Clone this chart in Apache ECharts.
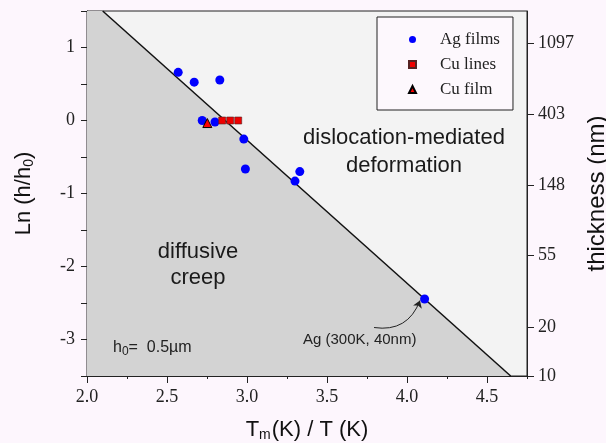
<!DOCTYPE html>
<html>
<head>
<meta charset="utf-8">
<script src="https://cdn.jsdelivr.net/npm/echarts@6/dist/echarts.min.js"></script>
<style>
  html, body { margin: 0; padding: 0; background: #fdf6fd; }
  #chart { width: 606px; height: 443px; }
</style>
</head>
<body>
<div id="chart"></div>
<script>
// Ag films: [Tm/T, ln(h/h0)]
const agFilms = [
  [2.57, 0.66], [2.67, 0.525], [2.83, 0.555], [2.72, 0.0], [2.80, -0.02],
  [2.98, -0.255], [2.99, -0.665], [3.33, -0.70], [3.30, -0.83], [4.11, -2.445]
]
const cuLines = [[2.845, 0.0], [2.895, 0.0], [2.945, 0.0]]
const cuFilm = [[2.752, -0.035]]
// boundary between the two regimes
const boundary = [[2.098, 1.5], [4.648, -3.5]]
const xRange = [2.0, 4.75]
const yRange = [-3.5, 1.5]
const xMajorTicks = [2.0, 2.5, 3.0, 3.5, 4.0, 4.5]
const thickTicks = [10, 20, 55, 148, 403, 1097] // nm
const thickRange = [10, 1742] // nm
const arrowLine = [[3.794, -2.836], [4.081, -2.467]]

const serif = 'Liberation Serif'
const sans = 'Liberation Sans'

const chart = echarts.init(document.getElementById('chart'))
chart.setOption({
  backgroundColor: '#fdf6fd',
  animation: false,
  grid: {
    left: 87,
    right: 79,
    top: 11,
    bottom: 67,
    outerBoundsMode: 'none',
    show: true,
    backgroundColor: '#f3f3f3',
    borderColor: '#222',
    borderWidth: 1
  },
  legend: {
    orient: 'vertical',
    left: 377,
    top: 17,
    padding: [14, 13, 12, 31],
    backgroundColor: '#fdf8fd',
    borderColor: '#222',
    borderWidth: 1,
    itemWidth: 7,
    itemHeight: 7,
    itemGap: 8,
    data: ['Ag films', 'Cu lines', 'Cu film'],
    textStyle: {
      fontFamily: serif,
      fontSize: 17,
      color: '#222',
      lineHeight: 17,
      padding: [0, 0, 0, 19]
    }
  },
  xAxis: [
    {
      type: 'value',
      min: xRange[0],
      max: xRange[1],
      interval: 0.25,
      name: '{t|T}{s|m}{t|(K) / T (K)}',
      nameLocation: 'middle',
      nameGap: 42,
      nameTextStyle: {
        rich: {
          t: { fontFamily: sans, fontSize: 22, color: '#111' },
          s: { fontFamily: sans, fontSize: 14, color: '#111', verticalAlign: 'bottom', padding: [10, 1, 0, 0] }
        }
      },
      axisLine: { onZero: false, lineStyle: { color: '#222' } },
      axisTick: { length: 3, lineStyle: { color: '#222' } },
      axisLabel: {
        fontFamily: serif,
        fontSize: 18,
        color: '#222',
        margin: 12,
        formatter: v => (Math.abs(v * 2 - Math.round(v * 2)) < 1e-6 && v < 4.7 ? v.toFixed(1) : '')
      },
      splitLine: { show: false }
    },
    {
      type: 'value',
      min: xRange[0],
      max: xRange[1],
      position: 'bottom',
      axisLine: { show: false, onZero: false },
      axisTick: { customValues: xMajorTicks, length: 7, lineStyle: { color: '#222' } },
      axisLabel: { show: false },
      splitLine: { show: false }
    }
  ],
  yAxis: [
    {
      type: 'value',
      min: yRange[0],
      max: yRange[1],
      interval: 0.5,
      name: '{t|Ln (h/h}{s|0}{t|)}',
      nameLocation: 'middle',
      nameGap: 51,
      nameRotate: 90,
      nameTextStyle: {
        rich: {
          t: { fontFamily: sans, fontSize: 22, color: '#111' },
          s: { fontFamily: sans, fontSize: 14, color: '#111', verticalAlign: 'bottom', padding: [10, 0, 0, 0] }
        }
      },
      axisLine: { show: true, onZero: false, lineStyle: { color: '#222' } },
      axisTick: { length: 6, lineStyle: { color: '#222' } },
      axisLabel: {
        fontFamily: serif,
        fontSize: 18,
        color: '#222',
        margin: 12,
        formatter: v => (Number.isInteger(v) ? String(v) : '')
      },
      splitLine: { show: false }
    },
    {
      type: 'value',
      position: 'right',
      min: Math.log(thickRange[0]),
      max: Math.log(thickRange[1]),
      name: 'thickness (nm)',
      nameLocation: 'middle',
      nameGap: 56,
      nameRotate: 90,
      nameTextStyle: { fontFamily: sans, fontSize: 24, color: '#111' },
      axisLine: { show: true, onZero: false, lineStyle: { color: '#222' } },
      axisTick: { customValues: thickTicks.map(Math.log), length: 7, lineStyle: { color: '#222' } },
      axisLabel: {
        customValues: thickTicks.map(Math.log),
        fontFamily: serif,
        fontSize: 18,
        color: '#222',
        margin: 11,
        formatter: v => String(Math.round(Math.exp(v)))
      },
      splitLine: { show: false }
    }
  ],
  graphic: [
    {
      type: 'text',
      x: 404,
      y: 124,
      z: 100,
      style: {
        text: 'dislocation-mediated\ndeformation',
        fontFamily: sans,
        fontSize: 22,
        lineHeight: 28,
        fill: '#1a1a1a',
        align: 'center'
      }
    },
    {
      type: 'text',
      x: 198,
      y: 239,
      z: 100,
      style: {
        text: 'diffusive\ncreep',
        fontFamily: sans,
        fontSize: 22,
        lineHeight: 26,
        fill: '#1a1a1a',
        align: 'center'
      }
    },
    {
      type: 'text',
      x: 303,
      y: 332,
      z: 100,
      style: {
        text: 'Ag (300K, 40nm)',
        fontFamily: sans,
        fontSize: 15,
        fill: '#222'
      }
    },
    {
      type: 'text',
      x: 113,
      y: 338,
      z: 100,
      style: {
        text: '{t|h}{s|0}{t|=  0.5\u00b5m}',
        rich: {
          t: { fontFamily: sans, fontSize: 16, fill: '#222' },
          s: { fontFamily: sans, fontSize: 12, fill: '#222', verticalAlign: 'bottom', padding: [8, 0, 0, 0] }
        }
      }
    }
  ],
  series: [
    {
      type: 'line',
      silent: true,
      data: [[xRange[0], yRange[1]], ...boundary],
      showSymbol: false,
      lineStyle: { width: 0 },
      areaStyle: { color: '#d3d3d3', origin: 'start', opacity: 1 },
      z: 1
    },
    {
      type: 'line',
      silent: true,
      data: boundary,
      showSymbol: false,
      lineStyle: { color: '#111', width: 1.5 },
      z: 2
    },
    {
      name: 'Ag films',
      type: 'scatter',
      data: agFilms,
      symbol: 'circle',
      symbolSize: 9,
      itemStyle: { color: '#0000ff', opacity: 1 },
      z: 5
    },
    {
      name: 'Cu lines',
      type: 'scatter',
      data: cuLines,
      symbol: 'rect',
      symbolSize: 7,
      itemStyle: { color: '#ee0000', borderColor: '#552222', borderWidth: 0.6, opacity: 1 },
      z: 6
    },
    {
      name: 'Cu film',
      type: 'scatter',
      data: cuFilm,
      symbol: 'triangle',
      symbolSize: 9,
      itemStyle: { color: '#ff0000', borderColor: '#000', borderWidth: 1, opacity: 1 },
      z: 6
    },
    {
      type: 'lines',
      coordinateSystem: 'cartesian2d',
      silent: true,
      symbol: ['none', 'arrow'],
      symbolSize: 7,
      lineStyle: { color: '#222', width: 1, curveness: -0.4, opacity: 1 },
      data: [{ coords: arrowLine }],
      z: 4
    }
  ]
})
</script>
</body>
</html>
